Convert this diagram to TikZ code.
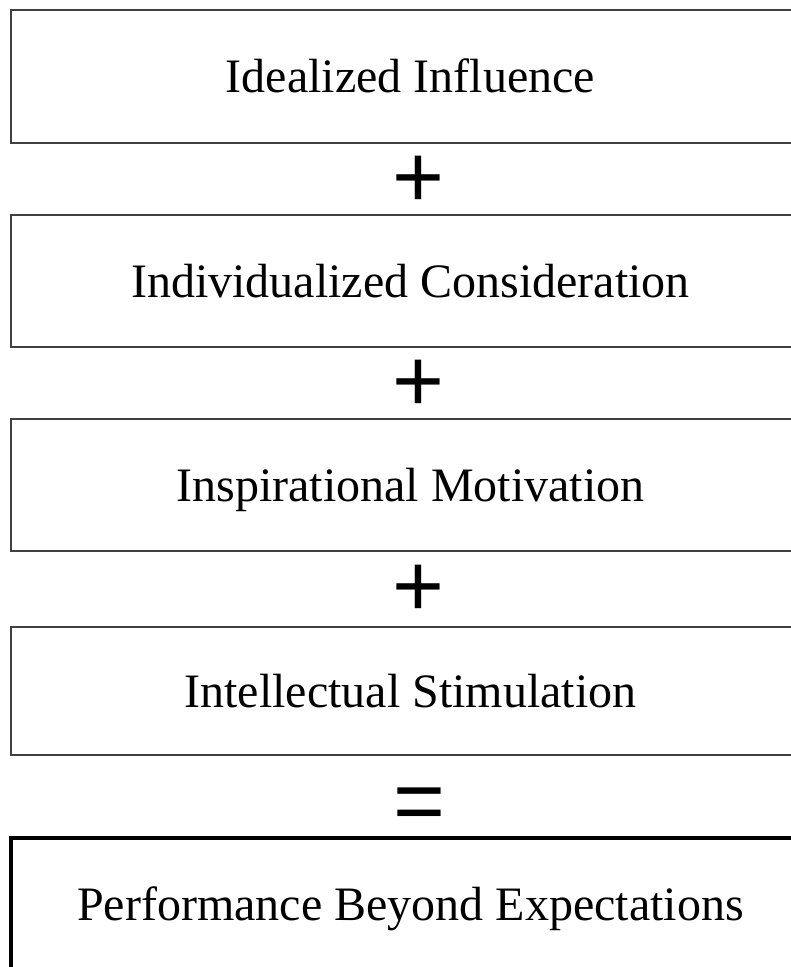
\documentclass[tikz,border=0pt]{standalone}
\usepackage{fontspec}
\setmainfont[Ligatures=NoCommon]{Liberation Serif}
\newfontfamily\opfont{Liberation Sans}
\begin{document}
\begin{tikzpicture}[x=1pt,y=-1pt,
  stagebox/.style={draw=black!75, line width=2.8pt, rectangle, minimum width=799pt,
    inner sep=0pt, text height=32pt, text depth=0pt,
    font=\fontsize{48}{58}\selectfont},
  resultbox/.style={stagebox, draw=black, line width=3.5pt},
  opsign/.style={inner sep=0pt, anchor=base, font=\opfont\fontsize{89}{100}\selectfont}]
\useasboundingbox (0,0) rectangle (791,967);
\clip (0,0) rectangle (791,967);
\node[stagebox, minimum height=133pt] (b1) at (410.5,76.5) {Idealized Influence};
\node[stagebox, minimum height=132pt] (b2) at (410.5,281) {Individualized Consideration};
\node[stagebox, minimum height=132pt] (b3) at (410.5,485) {Inspirational Motivation};
\node[stagebox, minimum height=128pt] (b4) at (410.5,691) {Intellectual Stimulation};
\node[resultbox, minimum height=133pt] (b5) at (410.5,904.5) {Performance Beyond Expectations};
\node[opsign] (p1) at (418,207) {+};
\node[opsign] (p2) at (418,411) {+};
\node[opsign] (p3) at (418,616) {+};
\node[opsign] (eq) at (419,831) {=};
\end{tikzpicture}
\end{document}
